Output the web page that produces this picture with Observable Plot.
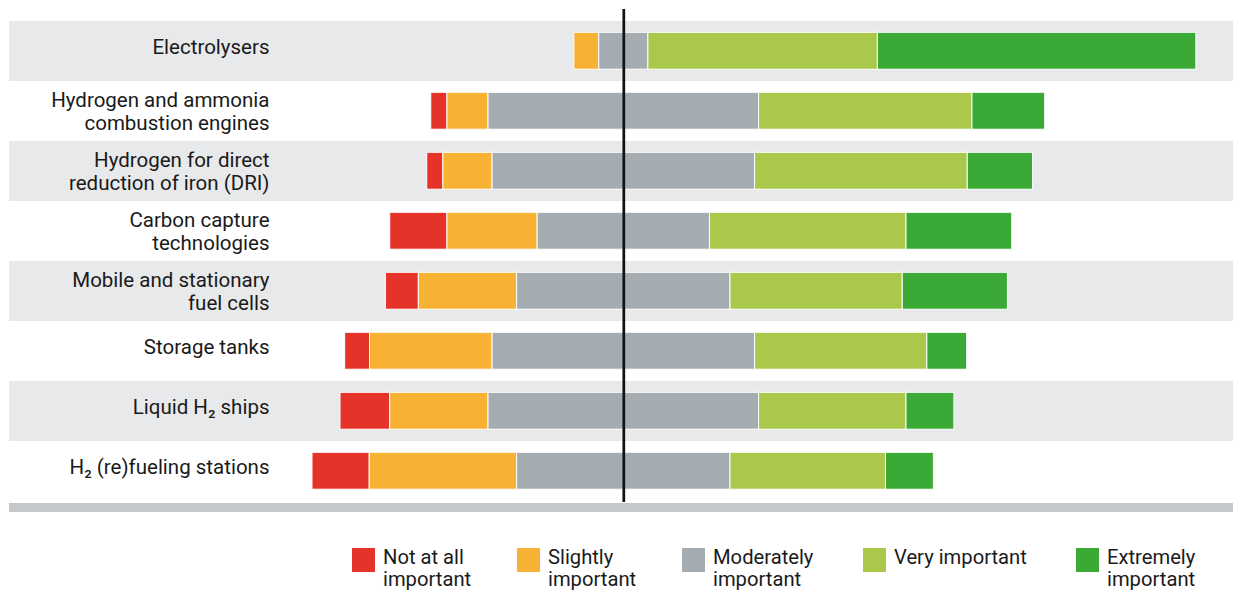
<!DOCTYPE html>
<html>
<head>
<meta charset="utf-8">
<script src="https://cdn.jsdelivr.net/npm/d3@7"></script>
<script src="https://cdn.jsdelivr.net/npm/@observablehq/plot@0.6"></script>
<style>
  html, body { margin: 0; padding: 0; background: #fff; }
  #wrap { position: relative; width: 1233px; height: 591px; overflow: hidden; font-family: Roboto, "Noto Sans", sans-serif; }
  #chart svg { display: block; }
  #baseline { position: absolute; left: 9px; top: 503px; width: 1224px; height: 9px; background: #c4c8cb; }
  .lg { position: absolute; top: 548px; display: flex; align-items: flex-start; }
  .sw { width: 23px; height: 24px; margin-right: 8px; flex: none; }
  .lt { font-size: 20.2px; line-height: 22px; color: #1a1a1a; margin-top: -2px; }
  .lt div { height: 22px; white-space: nowrap; }
</style>
</head>
<body>
<div id="wrap"><div id="chart"></div><div id="baseline"></div><div id="legend"></div></div>
<script>
// ---- data (percent of respondents) ----
const categories = [
  "Electrolysers",
  "Hydrogen and ammonia\ncombustion engines",
  "Hydrogen for direct\nreduction of iron (DRI)",
  "Carbon capture\ntechnologies",
  "Mobile and stationary\nfuel cells",
  "Storage tanks",
  "Liquid H₂ ships",
  "H₂ (re)fueling stations"
];
const levels = ["Not at all important", "Slightly important", "Moderately important", "Very important", "Extremely important"];
const legendLabels = ["Not at all\nimportant", "Slightly\nimportant", "Moderately\nimportant", "Very important", "Extremely\nimportant"];
const colors = ["#e5332a", "#f7b133", "#a5acb1", "#aac94b", "#3aa935"];

const notAtAll   = [0.0, 2.6, 2.6,  9.2,  5.3,  4.0,  8.0,  9.2];
const slightly   = [4.0, 6.6, 7.9, 14.5, 15.8, 19.7, 15.8, 23.7];
const moderately = [7.9, 43.5, 42.2, 27.7, 34.3, 42.2, 43.5, 34.3];
const very       = [36.9, 34.3, 34.2, 31.6, 27.7, 27.7, 23.7, 25.0];
const extremely  = [51.2, 11.7, 10.5, 17.0, 16.9, 6.4, 7.7, 7.7];

// ---- build diverging stack table (moderate centred on 0) ----
const series = [notAtAll, slightly, moderately, very, extremely];
const segs = [];
categories.forEach((cat, i) => {
  let start = -moderately[i] / 2 - slightly[i] - notAtAll[i];
  series.forEach((s, k) => {
    const v = s[i];
    if (v > 0) segs.push({cat, level: levels[k], x1: start, x2: start + v});
    start += v;
  });
});
const bands = categories.filter((c, i) => i % 2 === 0);
const singleLine = categories.filter(c => !c.includes("\n"));
const multiLine = categories.filter(c => c.includes("\n"));

// ---- layout ----
const W = 1233, H = 503, mLeft = 9, center = 623.3, pxPerUnit = 6.22;
const xDomain = [(mLeft - center) / pxPerUnit, (W - center) / pxPerUnit];
const labelStyle = {frameAnchor: "left", dx: 260, textAnchor: "end", fontSize: 20.5, lineHeight: 1.09, fill: "#1a1a1a"};

const chart = Plot.plot({
  width: W,
  height: H,
  marginLeft: mLeft,
  marginRight: 0,
  marginTop: 19,
  marginBottom: 1,
  style: {fontFamily: "Roboto, 'Noto Sans', sans-serif", background: "transparent"},
  x: {domain: xDomain, axis: null},
  y: {domain: categories, padding: 0, axis: null},
  color: {domain: levels, range: colors},
  marks: [
    Plot.cell(bands, {y: d => d, fill: "#e8e9eb", inset: 0}),
    Plot.barX(segs, {
      y: "cat", x1: "x1", x2: "x2", fill: "level",
      stroke: "white", strokeWidth: 1,
      insetTop: 11.3, insetBottom: 11.8, insetLeft: 0, insetRight: 0
    }),
    Plot.ruleX([0], {stroke: "#111", strokeWidth: 2.7, insetTop: -10, insetBottom: 0}),
    Plot.text(singleLine, {y: d => d, text: d => d, dy: -4.5, ...labelStyle}),
    Plot.text(multiLine, {y: d => d, text: d => d, dy: 0, ...labelStyle})
  ]
});
document.getElementById("chart").appendChild(chart);

// ---- legend ----
const legendLeft = [352, 517, 682, 863, 1076];
const lg = document.getElementById("legend");
levels.forEach((lv, k) => {
  const item = document.createElement("div");
  item.className = "lg";
  item.style.left = legendLeft[k] + "px";
  const sw = document.createElement("div");
  sw.className = "sw";
  sw.style.background = colors[k];
  const t = document.createElement("div");
  t.className = "lt";
  legendLabels[k].split("\n").forEach(line => {
    const l = document.createElement("div");
    l.textContent = line;
    t.appendChild(l);
  });
  item.appendChild(sw); item.appendChild(t);
  lg.appendChild(item);
});
</script>
</body>
</html>
